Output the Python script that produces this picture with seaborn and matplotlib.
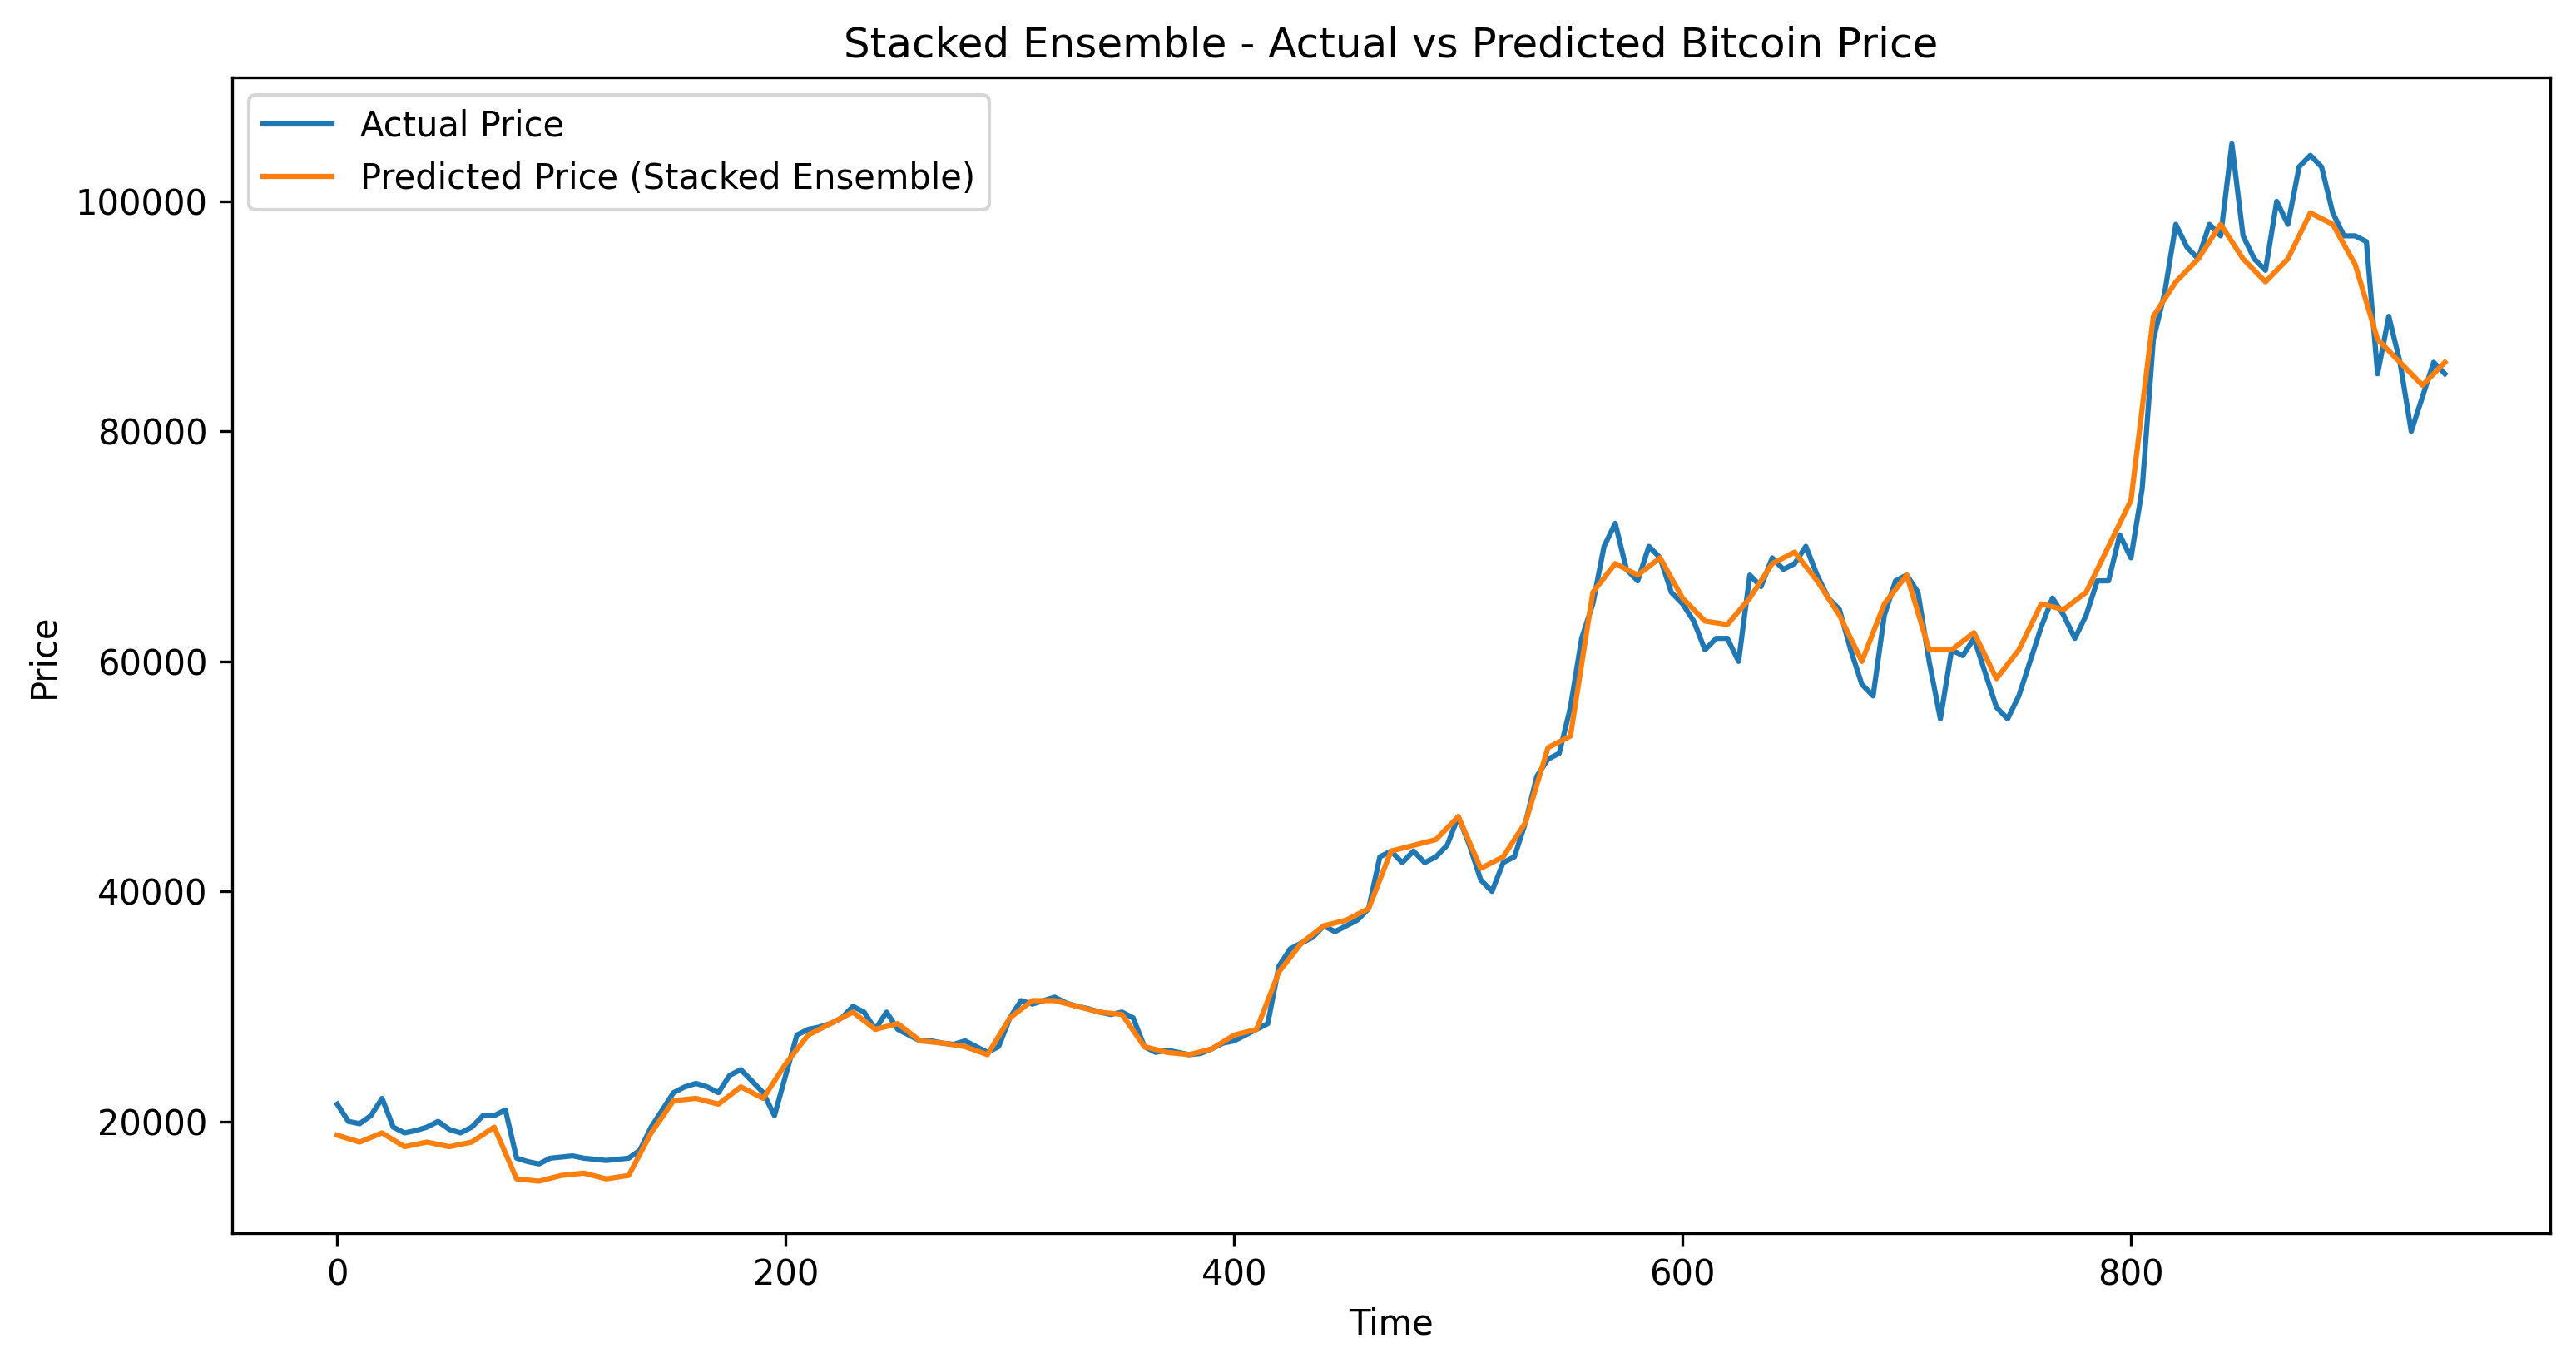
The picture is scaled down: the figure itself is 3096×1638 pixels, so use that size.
import matplotlib
matplotlib.use("Agg")
import matplotlib.pyplot as plt
import seaborn as sns
import numpy as np

# actual price, sampled every 5 steps
actual_t = list(range(0, 945, 5))
actual_price = [21500, 20000, 19800, 20500, 22000, 19500, 19000, 19200, 19500, 20000,
                19300, 19000, 19500, 20500, 20500, 21000, 16800, 16500, 16300, 16800,
                16900, 17000, 16800, 16700, 16600, 16700, 16800, 17500, 19500, 21000,
                22500, 23000, 23300, 23000, 22500, 24000, 24500, 23500, 22500, 20500,
                24000, 27500, 28000, 28200, 28500, 29000, 30000, 29500, 28000, 29500,
                28000, 27500, 27000, 27000, 26800, 26700, 27000, 26500, 26000, 26500,
                29000, 30500, 30200, 30500, 30800, 30300, 30000, 29800, 29500, 29300,
                29500, 29000, 26500, 26000, 26200, 26000, 25800, 25900, 26300, 26800,
                27000, 27500, 28000, 28500, 33500, 35000, 35500, 36000, 37000, 36500,
                37000, 37500, 38500, 43000, 43500, 42500, 43500, 42500, 43000, 44000,
                46500, 44000, 41000, 40000, 42500, 43000, 46000, 50000, 51500, 52000,
                56000, 62000, 65000, 70000, 72000, 68000, 67000, 70000, 69000, 66000,
                65000, 63500, 61000, 62000, 62000, 60000, 67500, 66500, 69000, 68000,
                68500, 70000, 67500, 65500, 64500, 61000, 58000, 57000, 64000, 67000,
                67500, 66000, 60000, 55000, 61000, 60500, 62000, 59000, 56000, 55000,
                57000, 60000, 63000, 65500, 64000, 62000, 64000, 67000, 67000, 71000,
                69000, 75000, 88000, 92000, 98000, 96000, 95000, 98000, 97000, 105000,
                97000, 95000, 94000, 100000, 98000, 103000, 104000, 103000, 99000, 97000,
                97000, 96500, 85000, 90000, 86000, 80000, 83000, 86000, 85000]

# predicted price (stacked ensemble), sampled every 10 steps
pred_t = list(range(0, 950, 10))
pred_price = [18800, 18200, 19000, 17800, 18200, 17800, 18200, 19500, 15000, 14800,
              15300, 15500, 15000, 15300, 19000, 21800, 22000, 21500, 23000, 22000,
              25000, 27500, 28500, 29500, 28000, 28500, 27000, 26800, 26500, 25800,
              29000, 30500, 30500, 30000, 29500, 29300, 26500, 26000, 25800, 26300,
              27500, 28000, 33000, 35500, 37000, 37500, 38500, 43500, 44000, 44500,
              46500, 42000, 43000, 46000, 52500, 53500, 66000, 68500, 67500, 69000,
              65500, 63500, 63200, 65500, 68500, 69500, 67000, 64000, 60000, 65000,
              67500, 61000, 61000, 62500, 58500, 61000, 65000, 64500, 66000, 70000,
              74000, 90000, 93000, 95000, 98000, 95000, 93000, 95000, 99000, 98000,
              94500, 88000, 86000, 84000, 86000]

fig, ax = plt.subplots(figsize=(10.32, 5.46), dpi=300)
sns.lineplot(x=actual_t, y=actual_price, ax=ax, color="#1f77b4", label="Actual Price")
sns.lineplot(x=pred_t, y=pred_price, ax=ax, color="#ff7f0e",
             label="Predicted Price (Stacked Ensemble)")
ax.set_title("Stacked Ensemble - Actual vs Predicted Bitcoin Price")
ax.set_xlabel("Time")
ax.set_ylabel("Price")
ax.set_ylim(10250, 110750)
ax.legend(loc="upper left")
fig.subplots_adjust(left=0.09, right=0.99, top=0.943, bottom=0.095)
fig.savefig("out.png", dpi=300)
